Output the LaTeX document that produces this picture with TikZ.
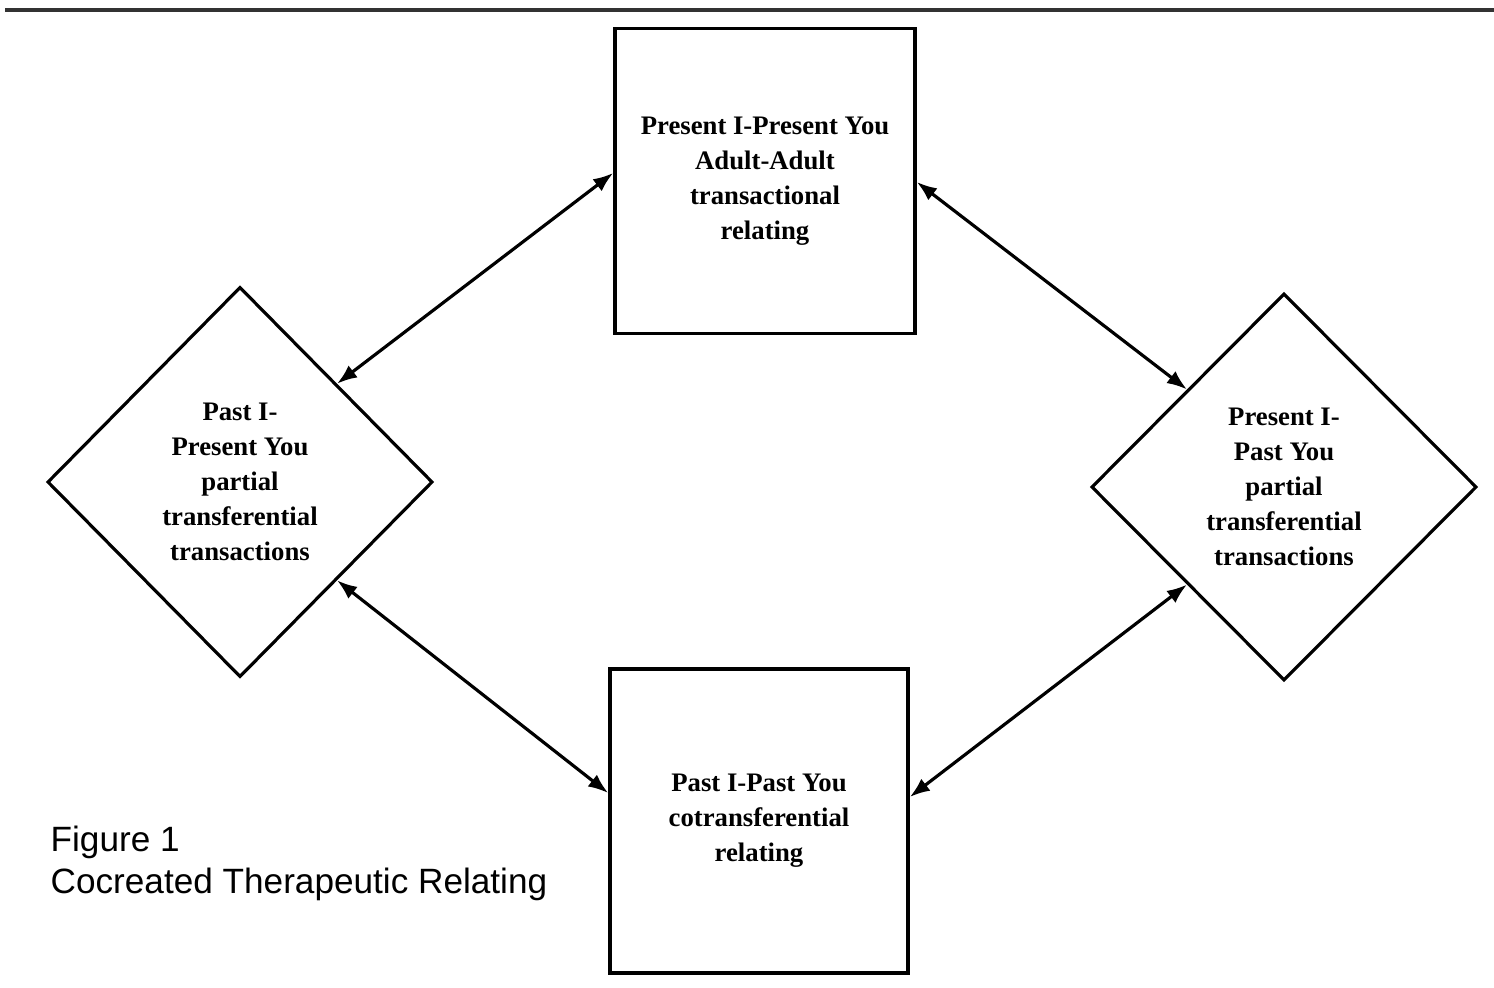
\documentclass[tikz,border=0pt]{standalone}
\usepackage{fontspec}
\setmainfont{Liberation Serif}
\setsansfont{Liberation Sans}
\usetikzlibrary{arrows.meta,shapes.geometric}
\begin{document}
\begin{tikzpicture}[x=0.01cm,y=-0.01cm,
  boxtext/.style={font=\bfseries\fontsize{7.6}{10}\selectfont, align=center, inner sep=0pt},
  relbox/.style={boxtext, draw, line width=1pt, rectangle},
  reldiamond/.style={boxtext, draw, line width=0.9pt, diamond, aspect=1},
  link/.style={line width=0.9pt, {Latex[length=0.2cm,width=0.15cm]}-{Latex[length=0.2cm,width=0.15cm]}},
  caption/.style={font=\sffamily\fontsize{10}{12}\selectfont, align=left, inner sep=0pt, anchor=north west}]
\useasboundingbox (0,0) rectangle (1494,987);
\fill[white] (0,0) rectangle (1494,987);

% rule across the top of the page
\draw[line width=1.4pt, black!80] (5,10) -- (1494,10);

% the four relating modes
\node[relbox, minimum width=3.00cm, minimum height=3.05cm] (top) at (765,181)
  {Present I-Present You\\Adult-Adult\\transactional\\relating};
\node[relbox, minimum width=2.98cm, minimum height=3.04cm] (bot) at (759,821)
  {Past I-Past You\\cotransferential\\relating};
\node[reldiamond, minimum width=3.85cm, minimum height=3.90cm] (left) at (240,482)
  {Past I-\\Present You\\partial\\transferential\\transactions};
\node[reldiamond, minimum width=3.85cm, minimum height=3.87cm] (right) at (1284,487)
  {Present I-\\Past You\\partial\\transferential\\transactions};

% two-way links
\draw[link] (left.north east) -- ([yshift=0.08cm]top.west);
\draw[link] ([yshift=-0.01cm]top.east) -- (right.north west);
\draw[link] (left.south east) -- ([yshift=0.28cm]bot.west);
\draw[link] (right.south west) -- ([yshift=0.24cm]bot.east);

% caption
\node[caption] (cap) at (50,825) {Figure 1\\Cocreated Therapeutic Relating};
\end{tikzpicture}
\end{document}
